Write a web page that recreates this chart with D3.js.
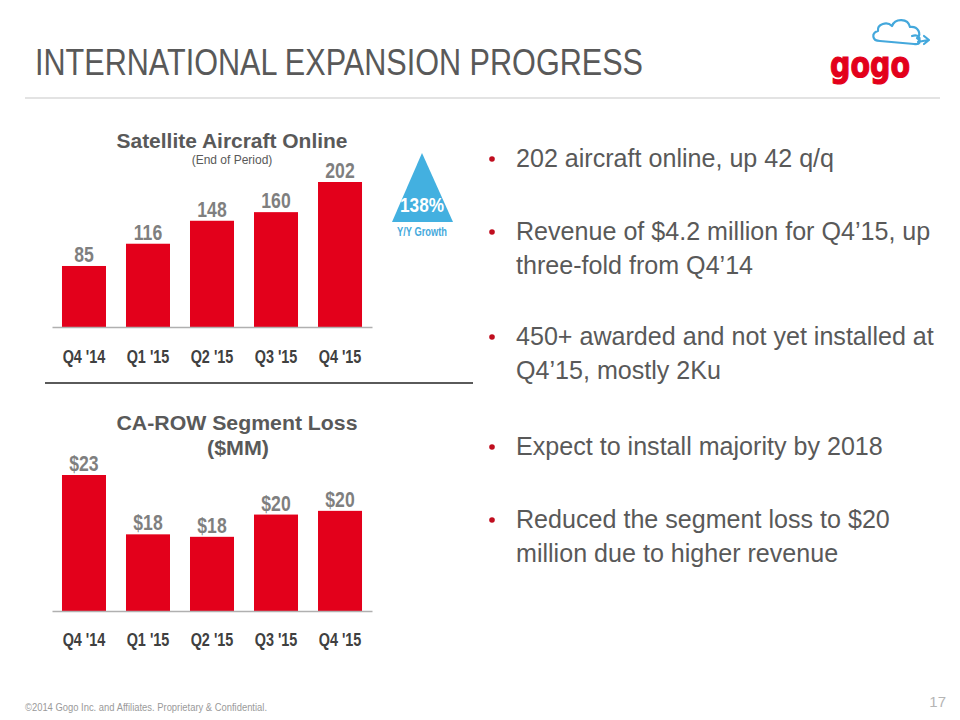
<!DOCTYPE html>
<html><head><meta charset="utf-8">
<script src="https://cdn.jsdelivr.net/npm/d3@7"></script>
<style>
html,body{margin:0;padding:0;background:#fff;}
svg{display:block;}
</style></head>
<body>
<script>
const categories = ["Q4 '14", "Q1 '15", "Q2 '15", "Q3 '15", "Q4 '15"];
const aircraftOnline = [85, 116, 148, 160, 202];
const aircraftLabels = ["85", "116", "148", "160", "202"];
const segmentLoss = [23.0, 18.2, 18.0, 19.8, 20.1];
const lossLabels = ["$23", "$18", "$18", "$20", "$20"];
const bullets = [
  ["202 aircraft online, up 42 q/q"],
  ["Revenue of $4.2 million for Q4\u201915, up", "three-fold from Q4\u201914"],
  ["450+ awarded and not yet installed at", "Q4\u201915, mostly 2Ku"],
  ["Expect to install majority by 2018"],
  ["Reduced the segment loss to $20", "million due to higher revenue"]
];

const W = 960, H = 720;
const RED = "#e3001b", GREY = "#595959";
const SANS = "'Liberation Sans',Arial,sans-serif";
const svg = d3.select("body").append("svg").attr("width", W).attr("height", H);

// horizontally condense a text to mimic a narrow face
function narrow(sel, f) {
  sel.each(function () {
    const w = this.getComputedTextLength();
    d3.select(this).attr("textLength", w * f).attr("lengthAdjust", "spacingAndGlyphs");
  });
  return sel;
}
function fitTo(sel, w) {
  sel.attr("textLength", w).attr("lengthAdjust", "spacingAndGlyphs");
  return sel;
}

// Header
fitTo(svg.append("text").attr("x", 35).attr("y", 75).attr("font-family", SANS)
  .attr("font-size", 36).attr("fill", GREY).text("INTERNATIONAL EXPANSION PROGRESS"), 608);
svg.append("line").attr("x1", 25).attr("x2", 940).attr("y1", 98).attr("y2", 98)
  .attr("stroke", "#e3e3e3").attr("stroke-width", 2);

// Logo
fitTo(svg.append("text").attr("x", 830).attr("y", 77)
  .attr("font-family", "'DejaVu Sans',sans-serif").attr("font-weight", "bold")
  .attr("font-size", 36).attr("fill", RED).attr("stroke", RED).attr("stroke-width", 1.2).text("gogo"), 80);
svg.append("path")
  .attr("d", "M880,41 C872,41 871,33 878,31 C877,24 887,21 892,26 C895,18 908,18 910,27 C918,26 922,34 917,38 C922,41 920,45 914,44 M914,44 L880,41 M912,36 C918,34 922,38 918,42 L928,40 M924,36 L929,40 L924,44")
  .attr("fill", "none").attr("stroke", "#44a8dc").attr("stroke-width", 2.2)
  .attr("stroke-linejoin", "round").attr("stroke-linecap", "round");

// Footer
fitTo(svg.append("text").attr("x", 25).attr("y", 711).attr("font-family", SANS)
  .attr("font-size", 10).attr("fill", "#9a9a9a").text("\u00a92014 Gogo Inc. and Affiliates. Proprietary & Confidential."), 242);
svg.append("text").attr("x", 946).attr("y", 707).attr("text-anchor", "end")
  .attr("font-family", SANS).attr("font-size", 15).attr("fill", "#b5b5b5").text("17");

// Bar chart helper
function barChart(cfg) {
  const g = svg.append("g");
  const x = d3.scaleBand().domain(categories).range([52, 372]).paddingInner(0.3125).paddingOuter(0.156);
  const y = d3.scaleLinear().domain(cfg.domain).range([cfg.base, cfg.base - cfg.span]);
  g.selectAll("rect").data(cfg.values).join("rect")
    .attr("x", (d, i) => x(categories[i])).attr("width", x.bandwidth())
    .attr("y", d => y(d)).attr("height", d => cfg.base - y(d)).attr("fill", RED);
  const axis = g.append("g").attr("transform", `translate(0,${cfg.base})`)
    .call(d3.axisBottom(x).tickSize(0).tickPadding(0));
  axis.select(".domain").attr("stroke", "#b0b0b0").attr("stroke-width", 1.5);
  narrow(axis.selectAll(".tick text").attr("font-family", SANS).attr("font-weight", "bold")
    .attr("font-size", 18).attr("fill", "#404040").attr("dy", 0).attr("y", cfg.catY - cfg.base), 0.8);
  narrow(g.selectAll("text.val").data(cfg.values).join("text").attr("class", "val")
    .attr("x", (d, i) => x(categories[i]) + x.bandwidth() / 2)
    .attr("y", d => y(d) - 4).attr("text-anchor", "middle")
    .attr("font-family", SANS).attr("font-weight", "bold").attr("font-size", 22)
    .attr("fill", "#7f7f7f").text((d, i) => cfg.labels[i]), 0.8);
  return g;
}

// Top chart
fitTo(svg.append("text").attr("x", 232).attr("y", 148).attr("text-anchor", "middle")
  .attr("font-family", SANS).attr("font-weight", "bold")
  .attr("font-size", 20).attr("fill", GREY).text("Satellite Aircraft Online"), 231);
svg.append("text").attr("x", 232).attr("y", 164).attr("text-anchor", "middle")
  .attr("font-family", SANS).attr("font-size", 12).attr("fill", GREY).text("(End of Period)");
barChart({values: aircraftOnline, labels: aircraftLabels, domain: [0, 202], base: 327, span: 145, catY: 363});

// Growth triangle
svg.append("path").attr("d", "M422,153 L453,222 L392,222 Z").attr("fill", "#43b0e0");
fitTo(svg.append("text").attr("x", 422).attr("y", 212).attr("text-anchor", "middle")
  .attr("font-family", SANS).attr("font-weight", "bold").attr("font-size", 20)
  .attr("fill", "#fff").text("138%"), 44);
fitTo(svg.append("text").attr("x", 422).attr("y", 236).attr("text-anchor", "middle")
  .attr("font-family", SANS).attr("font-weight", "bold").attr("font-size", 12)
  .attr("fill", "#45a9dc").text("Y/Y Growth"), 50);

// Divider
svg.append("line").attr("x1", 45).attr("x2", 473).attr("y1", 383).attr("y2", 383)
  .attr("stroke", "#5a5a5a").attr("stroke-width", 2);

// Bottom chart
fitTo(svg.append("text").attr("x", 237).attr("y", 430).attr("text-anchor", "middle")
  .attr("font-family", SANS).attr("font-weight", "bold")
  .attr("font-size", 20).attr("fill", GREY).text("CA-ROW Segment Loss"), 241);
fitTo(svg.append("text").attr("x", 238).attr("y", 455).attr("text-anchor", "middle")
  .attr("font-family", SANS).attr("font-weight", "bold")
  .attr("font-size", 21).attr("fill", GREY).text("($MM)"), 62);
barChart({values: segmentLoss, labels: lossLabels, domain: [12, 23], base: 611, span: 136, catY: 646});

// Bullets
const bulletY = [167, 240, 345, 455, 528];
bullets.forEach((lines, i) => {
  svg.append("circle").attr("cx", 492).attr("cy", bulletY[i] - 8).attr("r", 2.8).attr("fill", "#c00d1e");
  lines.forEach((t, j) => {
    narrow(svg.append("text").attr("x", 516).attr("y", bulletY[i] + j * 34)
      .attr("font-family", SANS).attr("font-size", 26).attr("fill", GREY).text(t), 0.965);
  });
});
</script>
</body></html>
